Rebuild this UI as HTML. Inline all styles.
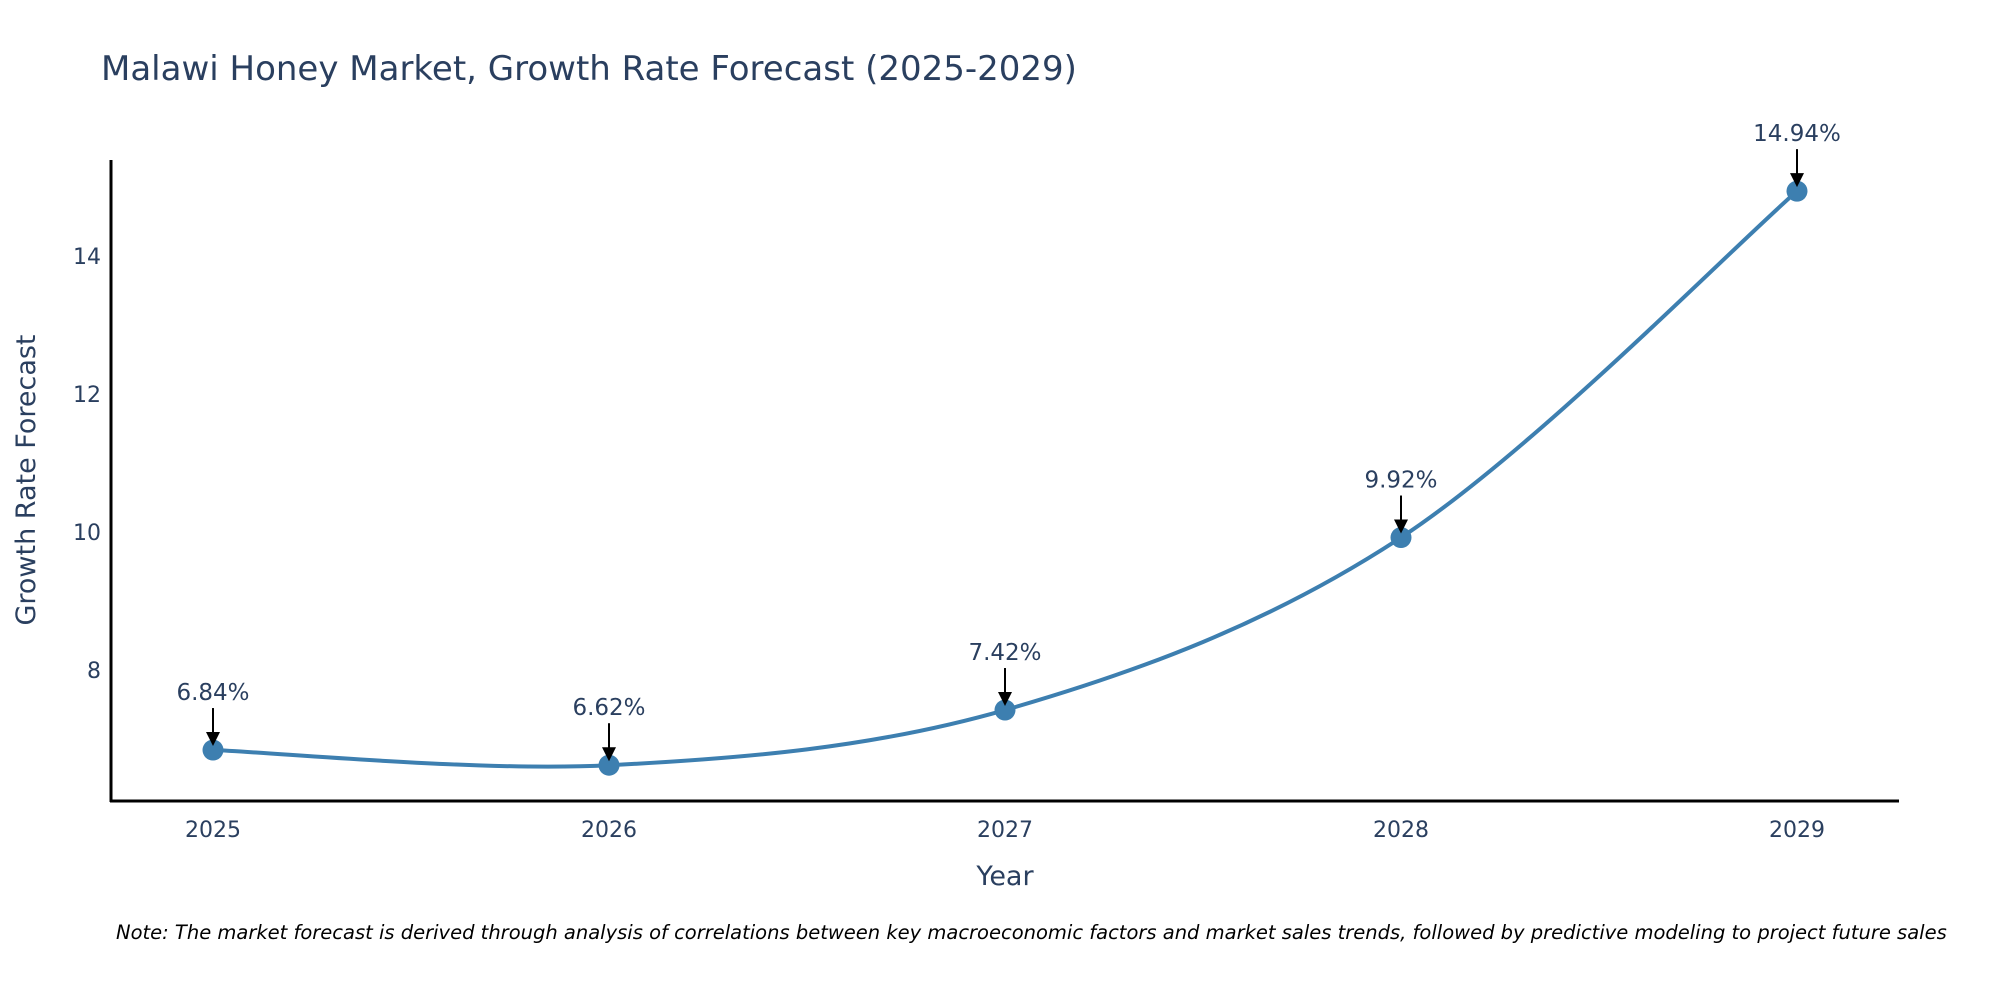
<!DOCTYPE html>
<html><head><meta charset="utf-8"><style>
body{margin:0;background:#fff;}
svg{display:block;font-family:"DejaVu Sans","Liberation Sans",sans-serif;}
</style></head><body>
<svg id="chart" width="2000" height="1000" viewBox="0 0 2000 1000" xmlns="http://www.w3.org/2000/svg">
<text x="101" y="80" font-size="34" fill="#2a3f5f">Malawi Honey Market, Growth Rate Forecast (2025-2029)</text>
<g id="yticks"></g><g id="xticks"></g>
<path id="line" fill="none" stroke="#3d7fb0" stroke-width="4"/>
<g id="points"></g>
<line x1="111" y1="160" x2="111" y2="802" stroke="#000" stroke-width="3"/>
<line x1="110" y1="801" x2="1899" y2="801" stroke="#000" stroke-width="3"/>
<text transform="translate(35,480) rotate(-90)" text-anchor="middle" font-size="27" fill="#2a3f5f">Growth Rate Forecast</text>
<text x="1005" y="885" text-anchor="middle" font-size="27" fill="#2a3f5f">Year</text>
<text x="116" y="939" font-size="19.5" font-style="italic" fill="#000">Note: The market forecast is derived through analysis of correlations between key macroeconomic factors and market sales trends, followed by predictive modeling to project future sales</text>
</svg>
<script>
const years=[2025,2026,2027,2028,2029];
const values=[6.84,6.62,7.42,9.92,14.94];
const yTicks=[8,10,12,14];
const NS="http://www.w3.org/2000/svg";
function xs(i){return 213+i*(1797-213)/(years.length-1);}
function ys(v){return 670-(v-8)*69;}
function mk(t,a){const e=document.createElementNS(NS,t);for(const k in a)e.setAttribute(k,a[k]);return e;}
const yt=document.getElementById('yticks');
yTicks.forEach(v=>{const t=mk('text',{x:101,y:ys(v)+8,'text-anchor':'end','font-size':'22',fill:'#2a3f5f'});


t.textContent=v;yt.appendChild(t);});
const xt=document.getElementById('xticks');
years.forEach((y,i)=>{const t=mk('text',{x:xs(i),y:837,'text-anchor':'middle','font-size':'22',fill:'#2a3f5f'});


t.textContent=y;xt.appendChild(t);});
const P=values.map((v,i)=>[xs(i),ys(v)]);
let d='M'+P[0][0]+','+P[0][1];
for(let i=0;i<P.length-1;i++){const p0=P[Math.max(0,i-1)],p1=P[i],p2=P[i+1],p3=P[Math.min(P.length-1,i+2)];const s=0.5/3*2;
d+=' C'+(p1[0]+(p2[0]-p0[0])*s/2)+','+(p1[1]+(p2[1]-p0[1])*s/2)+' '+(p2[0]-(p3[0]-p1[0])*s/2)+','+(p2[1]-(p3[1]-p1[1])*s/2)+' '+p2[0]+','+p2[1];}
document.getElementById('line').setAttribute('d',d);
const g=document.getElementById('points');
P.forEach((p,i)=>{
const c=mk('circle',{cx:p[0],cy:p[1],r:10.5,fill:'#3d7fb0'});


g.appendChild(c);
const l=mk('line',{x1:p[0],y1:p[1]-42,x2:p[0],y2:p[1]-14,stroke:'#000','stroke-width':2});


g.appendChild(l);
const a=mk('path',{d:`M${p[0]-7},${p[1]-18} L${p[0]+7},${p[1]-18} L${p[0]},${p[1]-4} Z`,fill:'#000'});


g.appendChild(a);
const t=mk('text',{x:p[0],y:p[1]-50,'text-anchor':'middle','font-size':'23',fill:'#2a3f5f'});


t.textContent=values[i].toFixed(2)+'%';g.appendChild(t);});
</script>
</body></html>
